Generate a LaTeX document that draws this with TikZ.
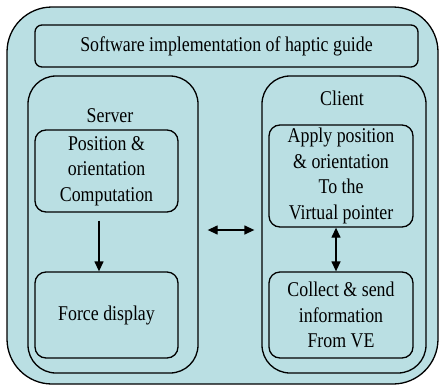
\documentclass[tikz,border=0pt]{standalone}
\usepackage{fontspec}
\setmainfont{Liberation Serif}[FakeStretch=0.85]
\usetikzlibrary{arrows.meta}
\definecolor{tealbg}{HTML}{BADFE3}
\begin{document}
\begin{tikzpicture}[x=1pt,y=-1pt,
  every node/.style={font=\fontsize{21}{25.5}\selectfont},
  frame/.style={draw=black,line width=1.3pt,fill=tealbg,rectangle,inner sep=0pt,align=center},
  inbox/.style={frame,rounded corners=11pt},
  conn/.style={line width=1.3pt,-{Triangle[length=10pt,width=9pt]}},
  dconn/.style={line width=1.3pt,{Triangle[length=10pt,width=9pt]}-{Triangle[length=10pt,width=9pt]}}]
\useasboundingbox (0,0) rectangle (443,388);
\node[frame,rounded corners=45pt,minimum width=431pt,minimum height=377pt] (outer) at (222.5,195.5) {};
\node[frame,rounded corners=7pt,minimum width=383pt,minimum height=42pt] (title) at (226.5,46) {Software implementation of haptic guide};
\node[frame,rounded corners=28pt,minimum width=170pt,minimum height=297pt] (server) at (113,224.5) {};
\node[frame,rounded corners=28pt,minimum width=164pt,minimum height=297pt] (client) at (344,224.5) {};
\node (serverlbl) at (110,116) {Server};
\node (clientlbl) at (342,98) {Client};
\node[inbox,minimum width=143pt,minimum height=82pt] (pos) at (106.5,171) {Position \&\\orientation\\Computation};
\node[inbox,minimum width=143pt,minimum height=86pt] (force) at (106.5,315) {Force display};
\node[inbox,minimum width=144pt,minimum height=102pt] (apply) at (341,176) {Apply position\\\& orientation\\To the\\Virtual pointer};
\node[inbox,minimum width=144pt,minimum height=86pt] (collect) at (341,315) {Collect \& send\\information\\From VE};
\draw[conn] ([xshift=-7.5pt,yshift=-8pt]pos.south) -- ([xshift=-7.5pt]force.north);
\draw[dconn] ([xshift=-5pt]apply.south) -- ([xshift=-5pt]collect.north);
\draw[dconn] ([shift={(9pt,-5.5pt)}]server.east) -- ([shift={(-7pt,-5.5pt)}]client.west);
\end{tikzpicture}
\end{document}
